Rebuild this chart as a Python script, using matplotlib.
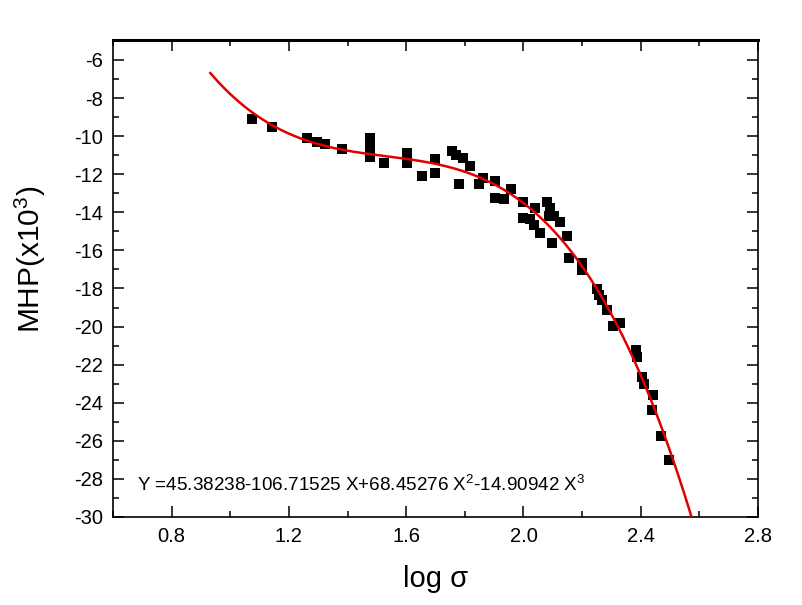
import matplotlib

matplotlib.use("Agg")
import matplotlib.pyplot as plt
import numpy as np
from matplotlib.ticker import MultipleLocator, FormatStrFormatter

# measured points (log sigma, MHP x10^3)
log_sigma = [
    1.073, 1.144, 1.261, 1.295, 1.324, 1.381, 1.477, 1.477, 1.477, 1.526,
    1.604, 1.604, 1.654, 1.699, 1.699, 1.756, 1.771, 1.779, 1.794, 1.816,
    1.847, 1.862, 1.904, 1.904, 1.934, 1.957, 2.000, 2.000, 2.023, 2.037,
    2.040, 2.055, 2.082, 2.086, 2.089, 2.097, 2.103, 2.123, 2.148, 2.156,
    2.200, 2.200, 2.251, 2.256, 2.268, 2.285, 2.307, 2.328, 2.385, 2.387,
    2.404, 2.412, 2.442, 2.439, 2.469, 2.495,
]
mhp = [
    -9.11, -9.50, -10.08, -10.29, -10.41, -10.69, -10.10, -10.60, -11.10, -11.43,
    -10.90, -11.40, -12.08, -11.22, -11.92, -10.76, -10.99, -12.53, -11.16, -11.57,
    -12.53, -12.21, -12.34, -13.27, -13.32, -12.79, -13.44, -14.32, -14.37, -14.67,
    -13.79, -15.07, -13.44, -14.19, -13.79, -15.59, -14.19, -14.49, -15.24, -16.38,
    -16.64, -17.03, -18.04, -18.34, -18.61, -19.13, -19.97, -19.83, -21.23, -21.58,
    -22.63, -23.02, -23.59, -24.38, -25.73, -27.00,
]

# cubic fit as printed on the chart (highest power first for polyval)
fit_coeffs = [-14.90942, 68.45276, -106.71525, 45.38238]
fit_range = [0.932, 2.60]
fit_label = (r"Y =45.38238-106.71525 X+68.45276 X$^{2}$-14.90942 X$^{3}$")

plt.rcParams.update(
    {
        "font.family": ["Liberation Sans", "DejaVu Sans"],
        "mathtext.fontset": "custom",
        "mathtext.rm": "Liberation Sans",
        "mathtext.it": "Liberation Sans:italic",
        "axes.unicode_minus": False,
    }
)

fig = plt.figure(figsize=(8.02, 6.05), dpi=100)
ax = fig.add_axes([113 / 802, 1 - 517 / 605, (758 - 113) / 802, (517 - 40) / 605])

ax.scatter(log_sigma, mhp, marker="s", s=55, color="black", linewidths=0, zorder=2)

xf = np.linspace(fit_range[0], fit_range[1], 400)
ax.plot(xf, np.polyval(fit_coeffs, xf), color="#e00000", lw=1.8, zorder=3)

ax.text(0.682, -28.3, fit_label, ha="left", va="center", fontsize=13.6)

ax.set_xlim(0.6, 2.8)
ax.set_ylim(-30, -4.95)
ax.xaxis.set_major_locator(MultipleLocator(0.4))
ax.xaxis.set_minor_locator(MultipleLocator(0.2))
ax.xaxis.set_major_formatter(FormatStrFormatter("%.1f"))
ax.yaxis.set_major_locator(MultipleLocator(2))
ax.yaxis.set_minor_locator(MultipleLocator(1))

ax.tick_params(which="both", direction="in", top=True, right=True, width=1.1)
ax.tick_params(which="major", length=8, labelsize=14.5, pad=7)
ax.tick_params(which="minor", length=4.5)

for side, sp in ax.spines.items():
    sp.set_linewidth(2.2 if side == "top" else 1.2)

ax.set_xlabel("log σ", fontsize=21, labelpad=14)
ax.set_ylabel(r"MHP(x10$^{3}$)", fontsize=21.5, labelpad=12)
ax.yaxis.set_label_coords(-0.1, 0.54)

fig.savefig("out.png", dpi=100, facecolor="white")
